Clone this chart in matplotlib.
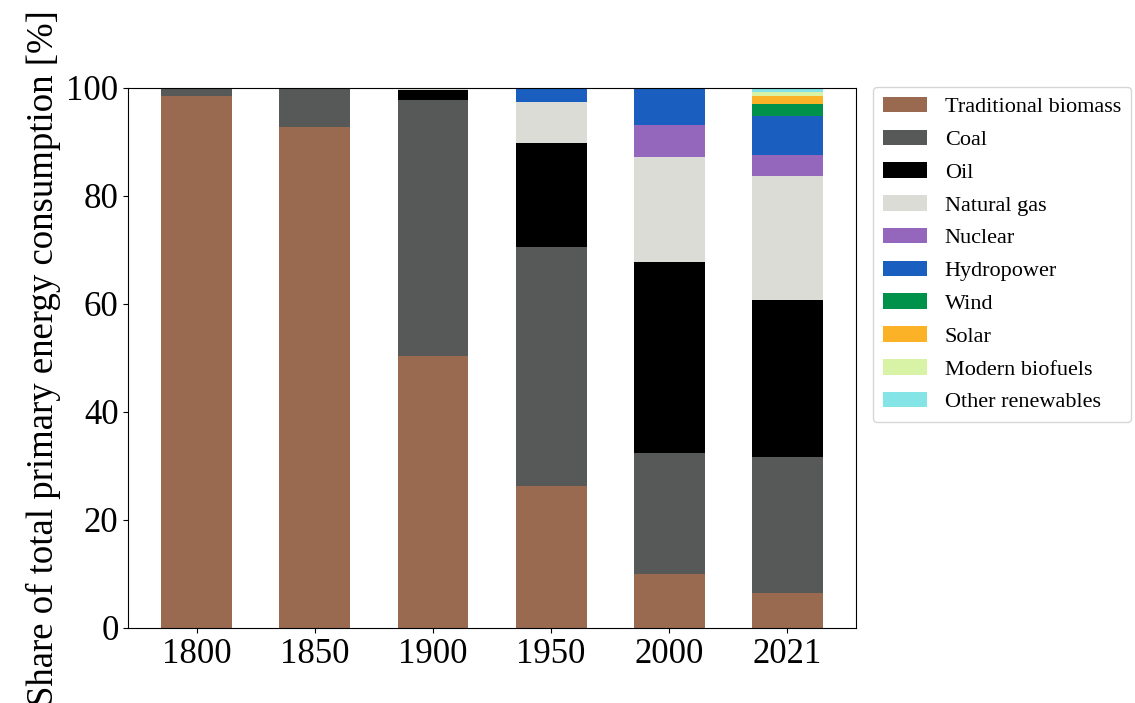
import matplotlib
matplotlib.use('Agg')
import matplotlib.pyplot as plt
import numpy as np

# ============================================================
# DATA (share of total primary energy consumption, %)
# ============================================================
years = ["1800", "1850", "1900", "1950", "2000", "2021"]

sources = ["Traditional biomass", "Coal", "Oil", "Natural gas", "Nuclear",
           "Hydropower", "Wind", "Solar", "Modern biofuels", "Other renewables"]

biomass   = [98.5, 92.8, 50.4, 26.3, 10.0, 6.5]
coal      = [1.5, 7.2, 47.4, 44.3, 22.4, 25.2]
oil       = [0.0, 0.0, 1.8, 19.2, 35.4, 29.0]
gas       = [0.0, 0.0, 0.3, 7.6, 19.4, 23.0]
nuclear   = [0.0, 0.0, 0.0, 0.0, 5.9, 3.9]
hydro     = [0.0, 0.0, 0.1, 2.6, 6.7, 7.1]
wind      = [0.0, 0.0, 0.0, 0.0, 0.05, 2.3]
solar     = [0.0, 0.0, 0.0, 0.0, 0.01, 1.5]
biofuels  = [0.0, 0.0, 0.0, 0.0, 0.1, 0.7]
other_ren = [0.0, 0.0, 0.0, 0.0, 0.1, 0.8]

colors = ["#996950", "#575958", "#000000", "#dcdcd6", "#9467bd",
          "#1a5fbf", "#00924a", "#fbb226", "#d8f2a6", "#85e5e6"]

series = [biomass, coal, oil, gas, nuclear, hydro, wind, solar, biofuels, other_ren]

# ============================================================
# PLOT
# ============================================================
plt.rcParams['font.family'] = ['Liberation Serif', 'DejaVu Serif']

fig = plt.figure(figsize=(11.35, 7.03), dpi=100)
ax = fig.add_axes([0.113, 0.107, 0.641, 0.768])

x = np.arange(len(years))
bottom = np.zeros(len(years))
for name, vals, c in zip(sources, series, colors):
    ax.bar(x, vals, 0.6, bottom=bottom, color=c, label=name)
    bottom += np.array(vals)

ax.set_xticks(x)
ax.set_xticklabels(years)
ax.set_ylim(0, 100)
ax.tick_params(labelsize=25)
ax.set_ylabel('Share of total primary energy consumption [%]', fontsize=26.5)

ax.legend(loc='upper left', bbox_to_anchor=(1.023, 1.002), borderaxespad=0,
          fontsize=16, labelspacing=0.55, handlelength=2.0, handletextpad=0.8,
          borderpad=0.45)

plt.savefig('out.png', dpi=100)
